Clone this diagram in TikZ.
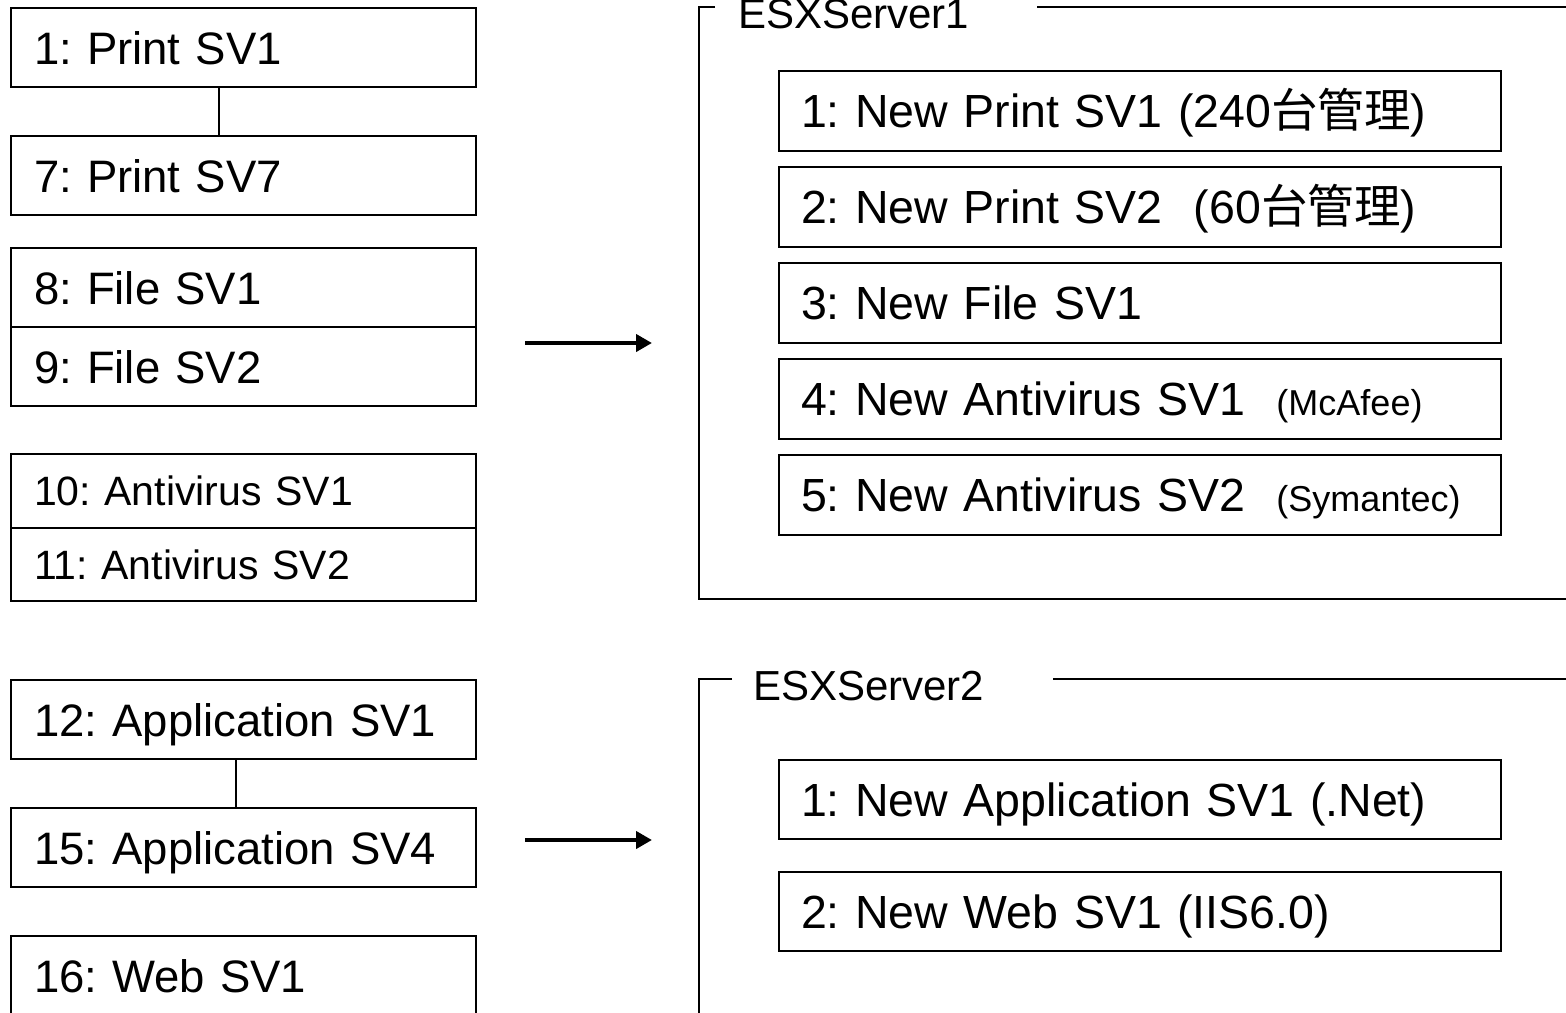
\documentclass[tikz,border=0pt]{standalone}
\usepackage{fontspec}
\setmainfont{Liberation Sans}
\newfontfamily\jpfont{Noto Sans CJK JP}
\usepackage{tikz}
\usetikzlibrary{positioning,arrows.meta}

\newcommand{\jtxt}[1]{{\jpfont #1}}
\newcommand{\subtxt}[1]{{\fontsize{36pt}{40pt}\selectfont #1}}
\frenchspacing

\begin{document}
\begin{tikzpicture}[
        x=1pt, y=-1pt,
        srvbox/.style={draw, line width=2pt, outer sep=0pt, inner ysep=0pt, inner xsep=23pt, text width=419pt, align=left, minimum height=79pt, text height=33pt, text depth=0pt, font=\fontsize{45.5pt}{50pt}\selectfont},
        avbox/.style={srvbox, minimum height=73.5pt, text height=29.5pt, font=\fontsize{41pt}{44pt}\selectfont},
        vmbox/.style={srvbox, inner xsep=22pt, text width=678pt, minimum height=80pt, font=\fontsize{46.5pt}{50pt}\selectfont},
        esxlabel/.style={inner sep=0pt, anchor=base west, font=\fontsize{42pt}{46pt}\selectfont},
        frameline/.style={line width=2.4pt},
        arrow/.style={-{Triangle[length=16pt, width=17pt]}, line width=4.5pt},
        linkline/.style={-, line width=1.6pt}
    ]
        \useasboundingbox (0,0) rectangle (1566,1012);

        % Old servers (left column)
        \node[srvbox, anchor=north west] (print1) at (11,8) {1: Print SV1};
        \node[srvbox, below=49pt of print1] (print7) {7: Print SV7};
        \node[srvbox, below=33pt of print7] (file1) {8: File SV1};
        \node[srvbox, below=0pt of file1] (file2) {9: File SV2};
        \node[avbox, below=48pt of file2] (av1) {10: Antivirus SV1};
        \node[avbox, below=0pt of av1] (av2) {11: Antivirus SV2};

        \node[srvbox, anchor=north west] (app1) at (11,680) {12: Application SV1};
        \node[srvbox, below=49pt of app1] (app4) {15: Application SV4};
        \node[srvbox, below=49pt of app4] (web1) {16: Web SV1};

        % Links between old servers
        \draw[linkline] ([xshift=-24.5pt]print1.south) -- ([xshift=-24.5pt]print7.north);
        \draw[linkline] ([xshift=-7.5pt]app1.south) -- ([xshift=-7.5pt]app4.north);

        % ESXServer1 frame
        \node[esxlabel] (esx1) at (738,28) {ESXServer1};
        \draw[frameline] (715,7) -| (699,599) -- (1572,599);
        \draw[frameline] (1037,7) -- (1572,7);

        \node[vmbox, anchor=north west] (nprint1) at (779,71) {1: New Print SV1 (240\jtxt{台管理})};
        \node[vmbox, below=16pt of nprint1] (nprint2) {2: New Print SV2~ (60\jtxt{台管理})};
        \node[vmbox, below=16pt of nprint2] (nfile1) {3: New File SV1};
        \node[vmbox, below=16pt of nfile1] (nav1) {4: New Antivirus SV1~~\subtxt{(McAfee)}};
        \node[vmbox, below=16pt of nav1] (nav2) {5: New Antivirus SV2~~\subtxt{(Symantec)}};

        % ESXServer2 frame
        \node[esxlabel] (esx2) at (753,700) {ESXServer2};
        \draw[frameline] (732,679) -| (699,1020);
        \draw[frameline] (1053,679) -- (1572,679);

        \node[vmbox, anchor=north west, minimum height=79pt] (napp1) at (779,760) {1: New Application SV1 (.Net)};
        \node[vmbox, below=33pt of napp1, minimum height=79pt] (nweb1) {2: New Web SV1 (IIS6.0)};

        % Migration arrows
        \coordinate (mv1s) at (525,343);
        \coordinate (mv1e) at (652,343);
        \coordinate (mv2s) at (525,840);
        \coordinate (mv2e) at (652,840);
        \draw[arrow] (mv1s) -- (mv1e);
        \draw[arrow] (mv2s) -- (mv2e);

    \end{tikzpicture}
\end{document}
